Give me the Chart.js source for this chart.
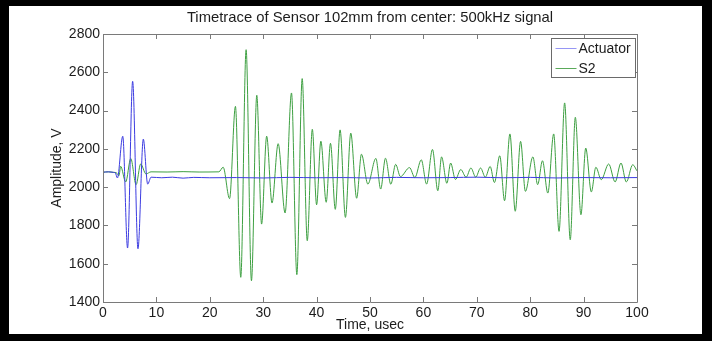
<!DOCTYPE html>
<html>
<head>
<meta charset="utf-8">
<script src="https://cdn.jsdelivr.net/npm/chart.js@4.4.1/dist/chart.umd.min.js"></script>
<style>
html,body{margin:0;padding:0;background:#fff;}
#wrap{width:712px;height:341px;position:relative;}
canvas{display:block;}
</style>
</head>
<body>
<div id="wrap"><canvas id="c" width="712" height="341"></canvas></div>
<script>
// ---- data ----
const titleText = 'Timetrace of Sensor 102mm from center: 500kHz signal';
const xTitle = 'Time, usec';
const yTitle = 'Amplitude, V';
const seriesNames = ['Actuator', 'S2'];
const xTicks = [0, 10, 20, 30, 40, 50, 60, 70, 80, 90, 100];
const yTicks = [1400, 1600, 1800, 2000, 2200, 2400, 2600, 2800];

const actTime = [0, 1, 2, 2.3, 2.7, 3.7, 4.6, 5.55, 6.55, 7.55, 8.37, 9, 11, 13, 15, 17, 20, 25, 30, 35, 40, 45, 50, 55, 60, 65, 70, 75, 80, 85, 90, 95, 100];
const actValues = [2078, 2080, 2077, 2075, 2048, 2266, 1682, 2553, 1678, 2251, 2016, 2052, 2049, 2052, 2047, 2051, 2049, 2050, 2048, 2051, 2049, 2050, 2048, 2051, 2049, 2050, 2052, 2049, 2051, 2048, 2050, 2049, 2050];

const s2Time = [0, 1, 2, 2.5, 3.0, 3.3, 4.25, 5.2, 6.2, 7.05, 8.05, 9, 12, 15, 18, 21.7, 22.5, 23.7, 24.8, 25.8, 26.8, 27.8, 28.8, 29.7, 30.65, 31.65, 32.8, 34.1, 35.3, 36.3, 37.3, 38.25, 39.2, 40.0, 40.8, 41.8, 42.6, 43.5, 44.4, 45.4, 46.4, 47.5, 48.4, 49.6, 51.1, 52.0, 52.9, 53.9, 54.8, 55.7, 57.4, 58.4, 59.6, 60.6, 61.7, 62.7, 63.4, 64.4, 65.1, 66.0, 67.0, 68.0, 68.9, 69.8, 70.7, 71.6, 72.5, 73.3, 74.3, 75.2, 76.2, 77.2, 78.2, 79.1, 80.5, 81.4, 82.3, 83.3, 84.4, 85.4, 86.45, 87.5, 88.45, 89.5, 90.4, 91.45, 92.3, 93.3, 94.7, 95.9, 97.0, 98.0, 99.2, 100];
const s2Values = [2078, 2080, 2077, 2075, 2060, 2109, 2027, 2149, 2013, 2121, 2069, 2080, 2079, 2081, 2079, 2080, 2104, 1940, 2422, 1529, 2718, 1511, 2480, 1807, 2266, 1917, 2227, 1865, 2492, 1543, 2567, 1720, 2302, 1908, 2240, 1921, 2229, 1884, 2299, 1842, 2282, 1942, 2172, 2016, 2150, 1990, 2151, 2015, 2119, 2055, 2102, 2050, 2143, 2016, 2197, 1981, 2158, 2020, 2126, 2040, 2092, 2052, 2100, 2052, 2100, 2052, 2108, 2024, 2164, 1929, 2278, 1874, 2239, 1978, 2158, 2013, 2138, 1969, 2278, 1769, 2440, 1725, 2365, 1856, 2204, 1975, 2104, 2039, 2121, 2027, 2126, 2027, 2117, 2085];

const colors = ['rgb(60,60,225)', 'rgb(62,160,66)'];
const legendLineColors = ['rgb(150,150,245)', 'rgb(90,170,90)'];

// ---- helpers ----
function pts(xs, ys) { return xs.map((x, i) => ({x: x, y: ys[i]})); }
const FONT = "'Liberation Sans', Arial, sans-serif";
const TXT = '#1c1c1c';
const AX = '#7a7a7a';

const framePlugin = {
  id: 'frame',
  beforeDraw(chart) {
    const ctx = chart.ctx;
    ctx.save();
    ctx.fillStyle = '#000';
    ctx.fillRect(0, 0, chart.width, chart.height);
    ctx.fillStyle = '#fff';
    ctx.fillRect(9, 6, 702 - 9, 334 - 6);
    ctx.restore();
  },
  afterDatasetsDraw(chart) {
    const ctx = chart.ctx;
    const a = chart.chartArea;
    const xs = chart.scales.x, ys = chart.scales.y;
    ctx.save();
    // title centred over the axes
    ctx.fillStyle = TXT;
    ctx.font = '14.8px ' + FONT;
    ctx.textAlign = 'center';
    ctx.textBaseline = 'middle';
    ctx.fillText(titleText, (a.left + a.right) / 2, a.top - 16.5);

    ctx.strokeStyle = AX;
    ctx.lineWidth = 1;
    ctx.beginPath();
    ctx.rect(Math.round(a.left) + 0.5, Math.round(a.top) + 0.5, Math.round(a.right - a.left), Math.round(a.bottom - a.top));
    ctx.stroke();
    const L = 5;
    ctx.beginPath();
    xs.ticks.forEach(t => {
      const px = Math.round(xs.getPixelForValue(t.value)) + 0.5;
      ctx.moveTo(px, a.bottom); ctx.lineTo(px, a.bottom - L);
      ctx.moveTo(px, a.top); ctx.lineTo(px, a.top + L);
    });
    ys.ticks.forEach(t => {
      const py = Math.round(ys.getPixelForValue(t.value)) + 0.5;
      ctx.moveTo(a.left, py); ctx.lineTo(a.left + L, py);
      ctx.moveTo(a.right, py); ctx.lineTo(a.right - L, py);
    });
    ctx.stroke();

    // legend box (top-right inside the axes)
    const bw = 84, bh = 39;
    const bx = Math.round(a.right - 2 - bw) + 0.5, by = Math.round(a.top + 4) + 0.5;
    ctx.fillStyle = '#fff';
    ctx.fillRect(bx, by, bw, bh);
    ctx.strokeStyle = '#6a6a6a';
    ctx.strokeRect(bx, by, bw, bh);
    ctx.font = '14px ' + FONT;
    ctx.textBaseline = 'middle';
    ctx.textAlign = 'left';
    chart.data.datasets.forEach((ds, i) => {
      const ly = by + 9.5 + i * 20;
      ctx.strokeStyle = legendLineColors[i];
      ctx.lineWidth = 1;
      ctx.beginPath();
      ctx.moveTo(bx + 4, Math.round(ly) + 0.5);
      ctx.lineTo(bx + 25, Math.round(ly) + 0.5);
      ctx.stroke();
      ctx.fillStyle = TXT;
      ctx.fillText(ds.label, bx + 27, ly + 1);
    });
    ctx.restore();
  }
};

new Chart(document.getElementById('c'), {
  type: 'line',
  data: {
    datasets: [
      {label: seriesNames[0], data: pts(actTime, actValues), borderColor: colors[0], borderWidth: 1, pointRadius: 0, cubicInterpolationMode: 'monotone', fill: false},
      {label: seriesNames[1], data: pts(s2Time, s2Values), borderColor: colors[1], borderWidth: 1, pointRadius: 0, cubicInterpolationMode: 'monotone', fill: false}
    ]
  },
  options: {
    responsive: false,
    animation: false,
    devicePixelRatio: 1,
    layout: {padding: {left: 0, right: 75, top: 34, bottom: 0}},
    plugins: {
      legend: {display: false},
      tooltip: {enabled: false},
      title: {display: false}
    },
    scales: {
      x: {
        type: 'linear', min: 0, max: 100,
        afterBuildTicks(s) { s.ticks = xTicks.map(v => ({value: v})); },
        afterFit(s) { s.height = 39; },
        grid: {display: false, drawTicks: false},
        border: {display: false},
        ticks: {color: TXT, font: {family: FONT, size: 14}, padding: 3, maxRotation: 0, autoSkip: false, callback: v => String(v)},
        title: {display: true, text: xTitle, color: TXT, font: {family: FONT, size: 14}, padding: {top: 0, bottom: 7}}
      },
      y: {
        type: 'linear', min: 1400, max: 2800,
        afterBuildTicks(s) { s.ticks = yTicks.map(v => ({value: v})); },
        afterFit(s) { s.width = 103; },
        grid: {display: false, drawTicks: false},
        border: {display: false},
        ticks: {color: TXT, font: {family: FONT, size: 14}, padding: 3, autoSkip: false, callback: v => String(v)},
        title: {display: true, text: yTitle, color: TXT, font: {family: FONT, size: 14}, padding: {top: 49, bottom: 0}}
      }
    }
  },
  plugins: [framePlugin]
});
</script>
</body>
</html>
